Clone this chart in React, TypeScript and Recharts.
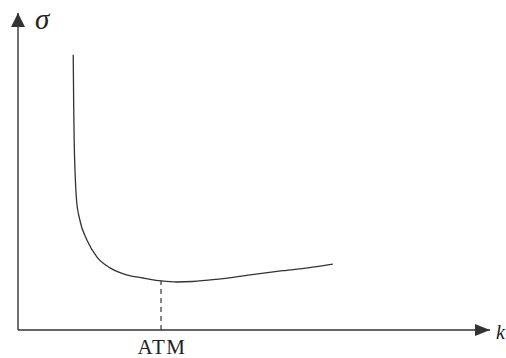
import React from 'react';
import { LineChart, Line, XAxis, YAxis, ReferenceLine, ReferenceDot } from 'recharts';

// strike (k) positions, in % of the axis length
const strikes = [11.7, 11.8, 11.9, 12.1, 12.4, 13.1, 14.6, 16.7, 19.5, 23.0, 26.5, 28.0, 30.4, 33.6, 37.0, 42.1, 49.2, 56.1, 63.3, 66.7];
// implied volatility (sigma), in % of the axis height
const sigmas = [86.8, 70.7, 59.9, 49.5, 41.0, 34.7, 28.4, 23.1, 19.6, 17.4, 16.4, 16.0, 15.5, 15.15, 15.3, 16.0, 17.4, 18.7, 20.0, 20.8];
const ATM_K = 30.3;
const ATM_SIGMA = 15.5;
const xTicks = [ATM_K];
const xTickLabels = ['ATM'];
const X_MAX = 100;
const Y_MAX = 100;

const data = strikes.map((k, i) => ({ k, sigma: sigmas[i] }));

const INK = '#333';
const SERIF = '"Liberation Serif", "Times New Roman", serif';

const RightArrow = (props: any) => {
  const { cx, cy } = props;
  return (
    <g>
      <polygon points={`${cx},${cy} ${cx - 15},${cy - 6} ${cx - 15},${cy + 6}`} fill={INK} />
      <text x={cx + 6} y={cy + 9} fontFamily={SERIF} fontStyle="italic" fontSize={20} fill="#222">k</text>
    </g>
  );
};

const UpArrow = (props: any) => {
  const { cx, cy } = props;
  return (
    <g>
      <polygon points={`${cx},${cy} ${cx - 7},${cy + 14} ${cx + 7},${cy + 14}`} fill={INK} />
      <text x={cx + 17} y={cy + 16} fontFamily={SERIF} fontStyle="italic" fontSize={29} fill="#222">σ</text>
    </g>
  );
};

const AtmTick = (props: any) => {
  const { x, y, index } = props;
  return (
    <text x={x + 1} y={y + 22} textAnchor="middle" fontFamily={SERIF} fontSize={21} letterSpacing={1.5} fill="#222">
      {xTickLabels[index] ?? ''}
    </text>
  );
};

export default function App() {
  return (
    <div style={{ position: 'absolute', left: 0, top: 0, width: 506, height: 358, background: '#fff' }}>
      <LineChart width={506} height={358} data={data} margin={{ top: 13, right: 16, bottom: 0, left: 0 }}>
        <XAxis
          type="number"
          dataKey="k"
          domain={[0, X_MAX]}
          ticks={xTicks}
          tick={<AtmTick />}
          tickLine={false}
          tickSize={0}
          height={28}
          axisLine={{ stroke: INK, strokeWidth: 1.4 }}
          allowDataOverflow
        />
        <YAxis
          type="number"
          domain={[0, Y_MAX]}
          width={18}
          tick={false}
          tickLine={false}
          axisLine={{ stroke: INK, strokeWidth: 1.4 }}
          allowDataOverflow
        />
        <ReferenceLine
          segment={[{ x: ATM_K, y: 0 }, { x: ATM_K, y: ATM_SIGMA }]}
          stroke={INK}
          strokeWidth={1.2}
          strokeDasharray="5 4"
        />
        <Line
          type="monotone"
          dataKey="sigma"
          stroke={INK}
          strokeWidth={1.3}
          dot={false}
          isAnimationActive={false}
        />
        <ReferenceDot x={X_MAX} y={0} ifOverflow="visible" shape={<RightArrow />} />
        <ReferenceDot x={0} y={Y_MAX} ifOverflow="visible" shape={<UpArrow />} />
      </LineChart>
    </div>
  );
}
